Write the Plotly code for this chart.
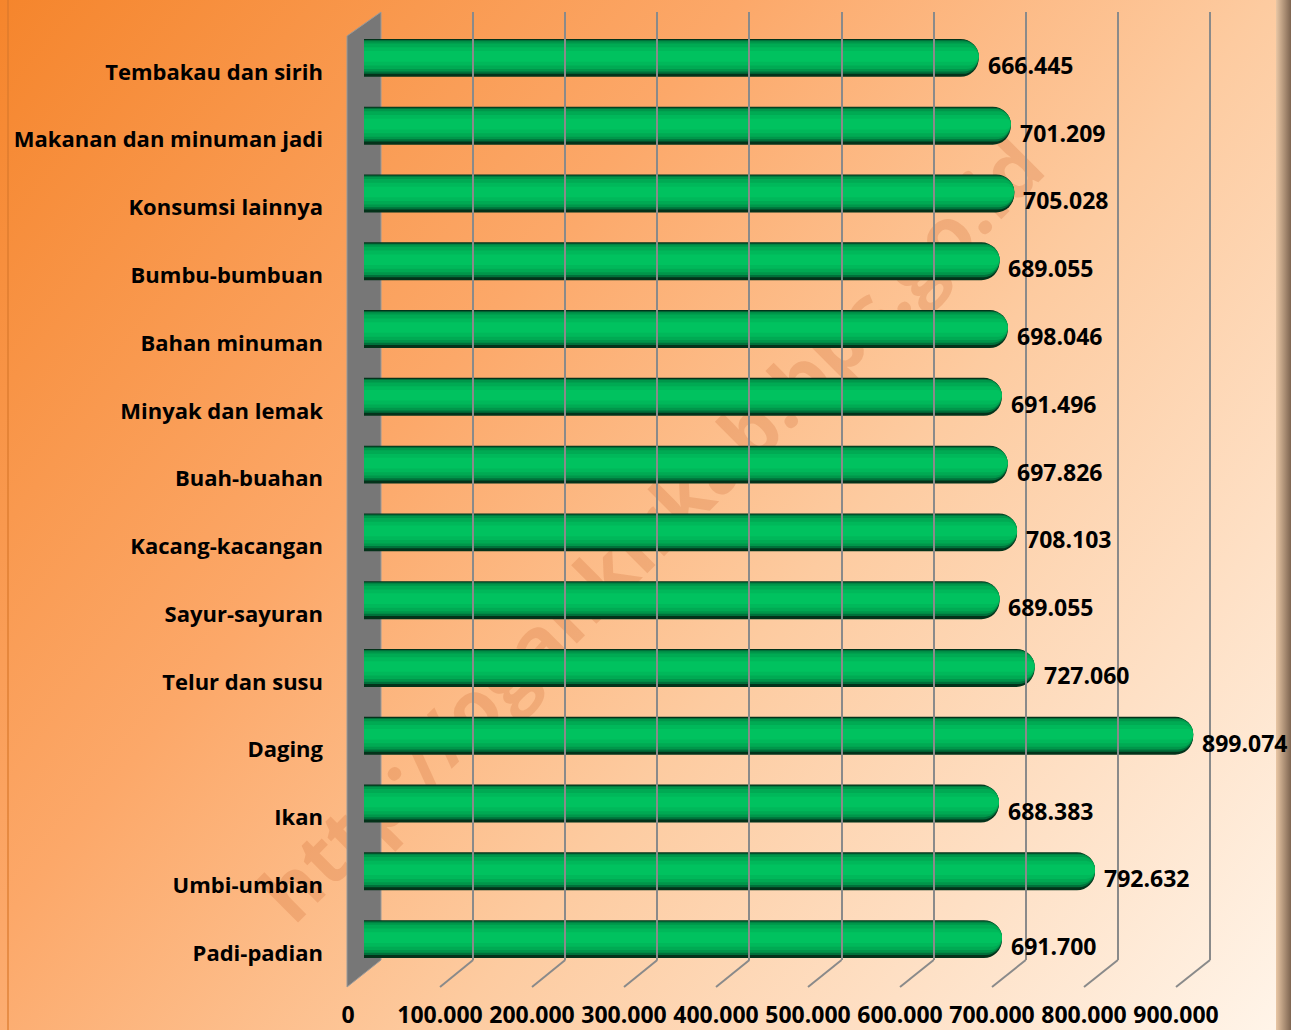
import base64
import plotly.graph_objects as go

W, H = 1291, 1030

# ---------------- data ----------------
categories = ["Padi-padian", "Umbi-umbian", "Ikan", "Daging", "Telur dan susu",
              "Sayur-sayuran", "Kacang-kacangan", "Buah-buahan", "Minyak dan lemak",
              "Bahan minuman", "Bumbu-bumbuan", "Konsumsi lainnya",
              "Makanan dan minuman jadi", "Tembakau dan sirih"]
values = [691700, 792632, 688383, 899074, 727060, 689055, 708103, 697826,
          691496, 698046, 689055, 705028, 701209, 666445]
tick_values = [0, 100000, 200000, 300000, 400000, 500000, 600000, 700000, 800000, 900000]
tick_labels = ["0", "100.000", "200.000", "300.000", "400.000", "500.000",
               "600.000", "700.000", "800.000", "900.000"]
value_labels = [f"{v:,}".replace(",", ".") for v in values]
watermark = "http://ogankirkab.bps.go.id"

# ---------------- helpers ----------------
def px(x):
    return x / W

def py(y):
    return 1 - y / H

FONT = "Open Sans"
FSIZE = 23
XMAX = tick_values[-1]

# geometry (pixel positions)
BAR_X0, BAR_X1 = 364, 1194          # bar axis 0 .. 900k
FRONT_X0, FRONT_X1 = 348, 1176      # front plane 0 .. 900k
BACK_X0, BACK_X1 = 381, 1210        # back plane 0 .. 900k
BACK_TOP, BACK_BOT, FRONT_BOT = 12, 960, 987
BACK_XMAX = XMAX * 1.01             # a bit beyond 900k so the last gridline is drawn
BACK_X1_EXT = BACK_X0 + (BACK_X1 - BACK_X0) * BACK_XMAX / XMAX

# ---------------- background svg ----------------
svg = f'''<svg xmlns="http://www.w3.org/2000/svg" width="{W}" height="{H}" viewBox="0 0 {W} {H}" preserveAspectRatio="none">
<defs>
<linearGradient id="g" gradientUnits="userSpaceOnUse" x1="0" y1="0" x2="{W}" y2="{H}">
<stop offset="0" stop-color="#f5852c"/>
<stop offset="0.35" stop-color="#fca869"/>
<stop offset="0.6" stop-color="#fdcba0"/>
<stop offset="1" stop-color="#fff5ea"/>
</linearGradient>
<linearGradient id="edge" x1="0" y1="0" x2="1" y2="0">
<stop offset="0" stop-color="#e9c7a5"/>
<stop offset="1" stop-color="#7d6450"/>
</linearGradient>
</defs>
<rect width="{W}" height="{H}" fill="url(#g)"/>
<rect x="7" y="0" width="2" height="{H}" fill="#d9782c" fill-opacity="0.6"/>
<rect x="1276" y="0" width="15" height="{H}" fill="url(#edge)"/>
<text x="650" y="528" transform="rotate(-45 650 528)" text-anchor="middle" dominant-baseline="central"
 font-family="Open Sans" font-weight="bold" font-size="78" fill="#c8602a" fill-opacity="0.22">{watermark}</text>
</svg>'''
svg_uri = "data:image/svg+xml;base64," + base64.b64encode(svg.encode()).decode()

fig = go.Figure()

# ---------------- bars (layered cylinder look) ----------------
BAR_H = 0.56
layers = [
    (0.00, 1.00, "#03331a"),
    (0.03, 0.92, "#00703a"),
    (0.06, 0.86, "#00964a"),
    (0.12, 0.79, "#00aa53"),
    (0.22, 0.70, "#00b85a"),
    (0.32, 0.60, "#00c25f"),
]
for tf, bf, col in layers:
    top = BAR_H / 2 - tf * BAR_H
    bot = BAR_H / 2 - bf * BAR_H
    fig.add_trace(go.Bar(
        x=values, y=categories, orientation="h",
        offset=bot, width=top - bot,
        marker=dict(color=col, line=dict(width=0), cornerradius="50%"),
        hoverinfo="skip", showlegend=False,
        xaxis="x", yaxis="y",
    ))

# invisible anchor traces for helper axes
fig.add_trace(go.Scatter(x=[0], y=[categories[0]], mode="markers",
                         marker=dict(opacity=0), hoverinfo="skip", showlegend=False,
                         xaxis="x2", yaxis="y2"))
fig.add_trace(go.Scatter(x=[0], y=[0], mode="markers",
                         marker=dict(opacity=0), hoverinfo="skip", showlegend=False,
                         xaxis="x3", yaxis="y3"))

# ---------------- shapes: wall & floor lines ----------------
shapes = []
wall = (f"M {px(BACK_X0)},{py(BACK_TOP)} L {px(FRONT_X0 - 1)},{py(BACK_TOP + 24)} "
        f"L {px(FRONT_X0 - 1)},{py(FRONT_BOT)} L {px(BACK_X0)},{py(BACK_BOT)} Z")
shapes.append(dict(type="path", path=wall, xref="paper", yref="paper",
                   fillcolor="#777777", line=dict(color="#9a9a9a", width=1), layer="below"))
for v in tick_values[1:]:
    xb = BACK_X0 + v / XMAX * (BACK_X1 - BACK_X0)
    xf = FRONT_X0 + v / XMAX * (FRONT_X1 - FRONT_X0)
    shapes.append(dict(type="line", xref="paper", yref="paper",
                       x0=px(xb), y0=py(BACK_BOT), x1=px(xf), y1=py(FRONT_BOT),
                       line=dict(color="#8a8a8a", width=2), layer="below"))

# ---------------- value labels ----------------
annotations = []
for c, v, t in zip(categories, values, value_labels):
    annotations.append(dict(x=v, y=c, xref="x", yref="y", text=t, showarrow=False,
                            xanchor="left", yanchor="middle", xshift=7, yshift=-7,
                            font=dict(family=FONT, size=FSIZE, color="black", weight=700)))

fig.update_layout(
    width=W, height=H, autosize=False,
    margin=dict(l=0, r=0, t=0, b=0, pad=0),
    paper_bgcolor="white",
    plot_bgcolor="rgba(0,0,0,0)",
    barmode="overlay",
    showlegend=False,
    images=[dict(source=svg_uri, xref="paper", yref="paper", x=0, y=1,
                 sizex=1, sizey=1, sizing="stretch", layer="below",
                 xanchor="left", yanchor="top")],
    shapes=shapes,
    annotations=annotations,
    xaxis=dict(domain=[px(BAR_X0), px(BAR_X1)], range=[0, XMAX], visible=False,
               anchor="y", fixedrange=True, automargin=False),
    yaxis=dict(domain=[py(973), py(24)], range=[-0.5, len(categories) - 0.5],
               type="category", categoryorder="array", categoryarray=categories,
               visible=False, anchor="x", fixedrange=True, automargin=False),
    xaxis2=dict(domain=[px(FRONT_X0), px(FRONT_X1)], range=[0, XMAX], anchor="y2",
                tickmode="array", tickvals=tick_values, ticktext=tick_labels,
                showgrid=False, zeroline=False, showline=False, ticks="",
                ticklabelstandoff=12, automargin=False,
                tickfont=dict(family=FONT, size=FSIZE, color="black", weight=700)),
    yaxis2=dict(domain=[py(FRONT_BOT), py(38)], range=[-0.5, len(categories) - 0.5],
                type="category", categoryorder="array", categoryarray=categories,
                anchor="x2", showgrid=False, zeroline=False, showline=False, ticks="",
                ticklabelstandoff=24, automargin=False,
                tickfont=dict(family=FONT, size=22, color="black", weight=700)),
    xaxis3=dict(domain=[px(BACK_X0), px(BACK_X1_EXT)], range=[0, BACK_XMAX], anchor="y3",
                tickmode="array", tickvals=tick_values[1:], showticklabels=False,
                showgrid=True, gridcolor="#8a8a8a", gridwidth=2, zeroline=False,
                showline=False, ticks="", automargin=False),
    yaxis3=dict(domain=[py(BACK_BOT), py(BACK_TOP)], range=[0, 1], visible=False,
                anchor="x3", automargin=False),
)

post = ("document.documentElement.style.margin='0';document.documentElement.style.padding='0';"
        "document.documentElement.style.overflow='hidden';"
        "document.body.style.margin='0';document.body.style.padding='0';"
        "document.body.style.overflow='hidden';")

fig.write_html("out.html", config={"responsive": False, "displayModeBar": False},
               post_script=post)
